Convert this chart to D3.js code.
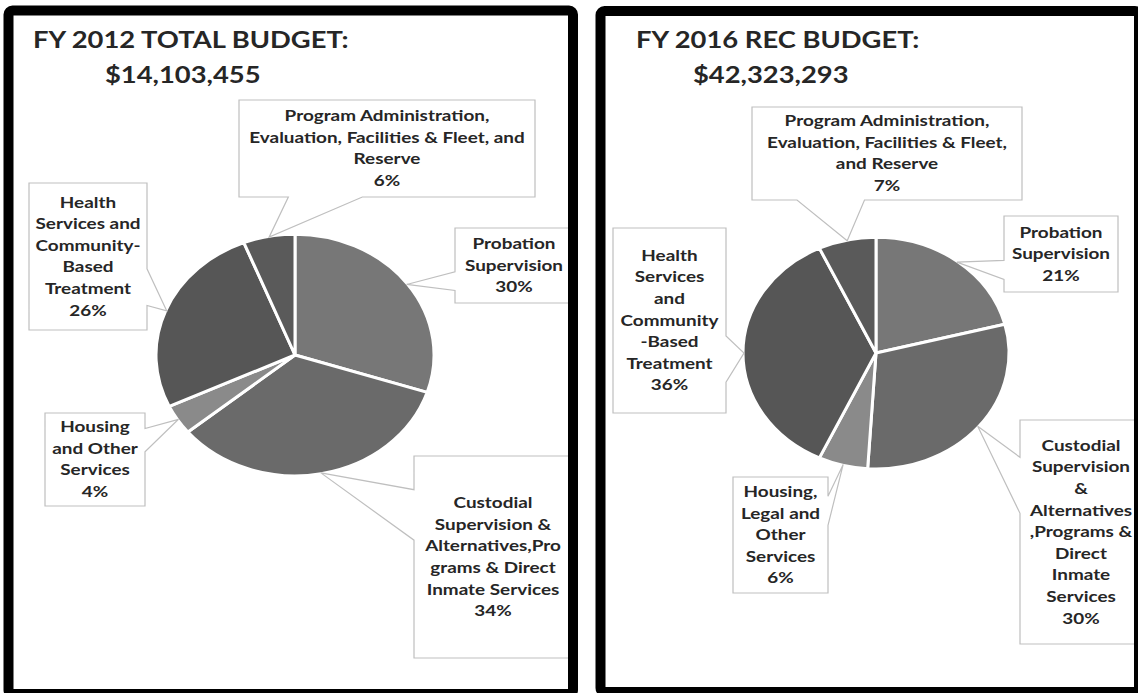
<!DOCTYPE html>
<html>
<head>
<meta charset="utf-8">
<script src="https://cdn.jsdelivr.net/npm/d3@7"></script>
<style>
  body { margin: 0; background: #fff; }
  svg { display: block; }
  text { font-family: Lato, "Open Sans", "DejaVu Sans", sans-serif; font-weight: 700; fill: #262626; }
</style>
</head>
<body>
<svg id="chart" width="1138" height="693"></svg>
<script>
// Budget categories, clockwise from 12 o'clock
const categories = [
  "Probation Supervision",
  "Custodial Supervision & Alternatives, Programs & Direct Inmate Services",
  "Housing and Other Services",
  "Health Services and Community-Based Treatment",
  "Program Administration, Evaluation, Facilities & Fleet, and Reserve"
];
const sliceColors = ["#777777", "#6a6a6a", "#8a8a8a", "#565656", "#5a5a5a"];

// Share of total budget (%)
const fy2012Values = [30, 34, 4, 26, 6];
const fy2016Values = [21, 30, 6, 36, 7];

// Callout text, one array of lines per category
const fy2012Labels = [
  ["Probation", "Supervision"],
  ["Custodial", "Supervision &", "Alternatives,Pro", "grams & Direct", "Inmate Services"],
  ["Housing", "and Other", "Services"],
  ["Health", "Services and", "Community-", "Based", "Treatment"],
  ["Program Administration,", "Evaluation, Facilities & Fleet, and", "Reserve"]
];
const fy2016Labels = [
  ["Probation", "Supervision"],
  ["Custodial", "Supervision", "&", "Alternatives", ",Programs &", "Direct", "Inmate", "Services"],
  ["Housing,", "Legal and", "Other", "Services"],
  ["Health", "Services", "and", "Community", "-Based", "Treatment"],
  ["Program Administration,", "Evaluation, Facilities & Fleet,", "and Reserve"]
];
const fy2012Title = ["FY 2012 TOTAL BUDGET:", "$14,103,455"];
const fy2016Title = ["FY 2016 REC BUDGET:", "$42,323,293"];

// Panel geometry (frame, titles, pie ellipse, callout boxes [x, y, w, h])
const panels = [
  {
    values: fy2012Values, labels: fy2012Labels, title: fy2012Title,
    frame: { x: 8.5, y: 10.5, w: 564.5, h: 683.5 },
    clip: { x: 14, y: 15, w: 554, h: 674 },
    titlePos: [[33, 48], [105, 83]],
    pie: { cx: 295, cy: 355, rx: 138, ry: 120 },
    boxes: [[455, 228, 118, 75], [414, 456, 158, 202], [45, 413, 100, 93], [29, 183, 118, 147], [239, 100, 296, 97]]
  },
  {
    values: fy2016Values, labels: fy2016Labels, title: fy2016Title,
    frame: { x: 600.5, y: 11, w: 538.5, h: 681 },
    clip: { x: 605, y: 15, w: 529, h: 672 },
    titlePos: [[636, 48], [693, 83]],
    pie: { cx: 876, cy: 353, rx: 132, ry: 115 },
    boxes: [[1004, 216, 114, 76], [1020, 420, 122, 224], [733, 477, 95, 116], [613, 228, 113, 185], [752, 107, 270, 93]]
  }
];

const svg = d3.select("#chart");
const pie = d3.pie().sort(null).value(d => d);
const color = d3.scaleOrdinal().domain(categories).range(sliceColors);
const LINE_H = 21.6;
const TITLE_SIZE = 23, TITLE_STRETCH = 1.19;
const LABEL_SIZE = 15, LABEL_STRETCH = 1.26;

// Rectangle callout with a wedge pointing at (tx, ty)
function calloutPath(x, y, w, h, tx, ty) {
  const cx = x + w / 2, cy = y + h / 2;
  const dx = tx - cx, dy = ty - cy;
  const p = d3.path();
  p.moveTo(x, y);
  if (Math.abs(dx) * h > Math.abs(dy) * w) {
    const [a, b] = dy > 0 ? [y + h * 7 / 12, y + h * 10 / 12] : [y + h * 2 / 12, y + h * 5 / 12];
    p.lineTo(x + w, y);
    if (dx > 0) { p.lineTo(x + w, a); p.lineTo(tx, ty); p.lineTo(x + w, b); }
    p.lineTo(x + w, y + h);
    p.lineTo(x, y + h);
    if (dx < 0) { p.lineTo(x, b); p.lineTo(tx, ty); p.lineTo(x, a); }
  } else {
    const [a, b] = dx > 0 ? [x + w * 7 / 12, x + w * 10 / 12] : [x + w * 2 / 12, x + w * 5 / 12];
    if (dy < 0) { p.lineTo(a, y); p.lineTo(tx, ty); p.lineTo(b, y); }
    p.lineTo(x + w, y);
    p.lineTo(x + w, y + h);
    if (dy > 0) { p.lineTo(b, y + h); p.lineTo(tx, ty); p.lineTo(a, y + h); }
    p.lineTo(x, y + h);
  }
  p.closePath();
  return p.toString();
}

const defs = svg.append("defs");

panels.forEach((pnl, i) => {
  defs.append("clipPath").attr("id", "clip" + i)
    .append("rect").attr("x", pnl.clip.x).attr("y", pnl.clip.y)
    .attr("width", pnl.clip.w).attr("height", pnl.clip.h);

  const g = svg.append("g").attr("clip-path", `url(#clip${i})`);

  // Title (two lines, slightly widened type)
  pnl.title.forEach((txt, j) => {
    g.append("text")
      .attr("transform", `translate(${pnl.titlePos[j][0]},${pnl.titlePos[j][1]}) scale(${TITLE_STRETCH},1)`)
      .style("font-size", TITLE_SIZE + "px")
      .text(txt);
  });

  // Pie, drawn as a circle and stretched to an ellipse
  const { cx, cy, rx, ry } = pnl.pie;
  const arcs = pie(pnl.values);
  const arc = d3.arc().innerRadius(0).outerRadius(rx + 1);
  g.append("g")
    .attr("transform", `translate(${cx},${cy}) scale(1,${ry / rx})`)
    .selectAll("path").data(arcs).join("path")
    .attr("d", arc)
    .attr("fill", (d, k) => color(categories[k]))
    .attr("stroke", "#fff")
    .attr("stroke-width", 3)
    .attr("stroke-linejoin", "round")
    .attr("vector-effect", "non-scaling-stroke");

  // Callouts
  arcs.forEach((d, k) => {
    const mid = (d.startAngle + d.endAngle) / 2;
    const tx = cx + rx * Math.sin(mid);
    const ty = cy - ry * Math.cos(mid);
    const [bx, by, bw, bh] = pnl.boxes[k];
    g.append("path")
      .attr("d", calloutPath(bx, by, bw, bh, tx, ty))
      .attr("fill", "#fff")
      .attr("stroke", "#bfbfbf")
      .attr("stroke-width", 1.2);
    const lines = pnl.labels[k].concat([d.data + "%"]);
    const top = by + bh / 2 - (lines.length - 1) * LINE_H / 2;
    const t = g.append("text")
      .attr("text-anchor", "middle")
      .attr("transform", `translate(${bx + bw / 2},0) scale(${LABEL_STRETCH},1)`)
      .style("font-size", LABEL_SIZE + "px");
    lines.forEach((ln, j) => {
      t.append("tspan").attr("x", 0).attr("y", top + j * LINE_H + 5.2).text(ln);
    });
  });

  // Frame
  svg.append("rect")
    .attr("x", pnl.frame.x).attr("y", pnl.frame.y)
    .attr("width", pnl.frame.w).attr("height", pnl.frame.h)
    .attr("rx", 4)
    .attr("fill", "none")
    .attr("stroke", "#000")
    .attr("stroke-width", 10);
});
</script>
</body>
</html>
